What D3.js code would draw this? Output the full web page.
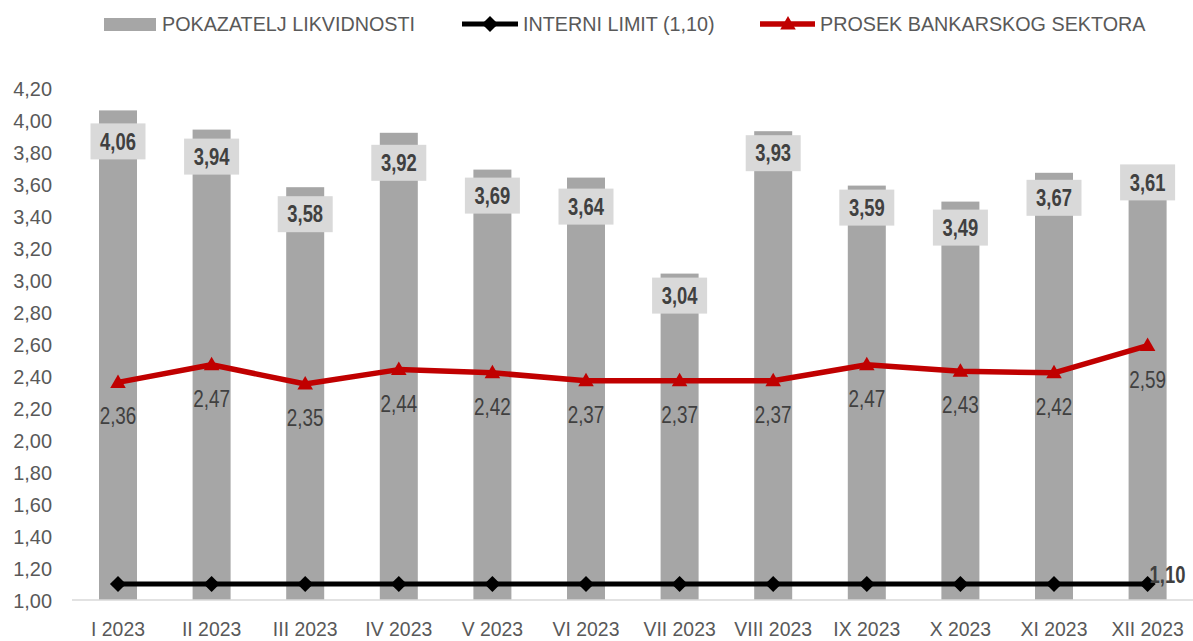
<!DOCTYPE html>
<html>
<head>
<meta charset="utf-8">
<script src="https://cdn.jsdelivr.net/npm/d3@7"></script>
<style>
  html, body { margin: 0; padding: 0; background: #fff; }
  svg { display: block; }
  text { font-family: "Liberation Sans Narrow", "Arial Narrow", "Liberation Sans", Arial, sans-serif; }
</style>
</head>
<body>
<svg id="chart" width="1193" height="641"></svg>
<script>
// ---- data ----
const categories = ["I 2023","II 2023","III 2023","IV 2023","V 2023","VI 2023","VII 2023","VIII 2023","IX 2023","X 2023","XI 2023","XII 2023"];
const liquidity = [4.06, 3.94, 3.58, 3.92, 3.69, 3.64, 3.04, 3.93, 3.59, 3.49, 3.67, 3.61];
const internalLimit = [1.10, 1.10, 1.10, 1.10, 1.10, 1.10, 1.10, 1.10, 1.10, 1.10, 1.10, 1.10];
const sectorAverage = [2.36, 2.47, 2.35, 2.44, 2.42, 2.37, 2.37, 2.37, 2.47, 2.43, 2.42, 2.59];
const yTicks = [1.0, 1.2, 1.4, 1.6, 1.8, 2.0, 2.2, 2.4, 2.6, 2.8, 3.0, 3.2, 3.4, 3.6, 3.8, 4.0, 4.2];
const seriesNames = ["POKAZATELJ LIKVIDNOSTI", "INTERNI LIMIT (1,10)", "PROSEK BANKARSKOG SEKTORA"];

// ---- layout (label nudges, px below bar top) ----
const barLabelNudge = [31, 27, 27, 30, 26, 29, 22, 22, 22, 26, 25, 0];

const fmt = v => d3.format(".2f")(v).replace(".", ",");
// emulate a narrow typeface by compressing glyphs horizontally
function condense(sel, f) {
  sel.each(function () {
    const w = this.getComputedTextLength();
    d3.select(this).attr("textLength", w * f).attr("lengthAdjust", "spacingAndGlyphs");
  });
}

const svg = d3.select("#chart");
const x = d3.scaleBand().domain(categories).range([71.2, 1194.4]).paddingInner(0.594).paddingOuter(0.297);
const y = d3.scaleLinear().domain([1, 4.2]).range([600, 88]);
const cx = d => x(d) + x.bandwidth() / 2;

// y axis
const yAxis = d3.axisLeft(y).tickValues(yTicks).tickFormat(fmt).tickSize(0).tickPadding(0);
const gy = svg.append("g").attr("transform", "translate(52,0)").call(yAxis);
gy.select(".domain").remove();
gy.selectAll("text").attr("fill", "#595959").style("font-size", "21px").attr("dy", "0.35em");
condense(gy.selectAll("text"), 0.95);

// bars
svg.append("g").selectAll("rect").data(liquidity).join("rect")
  .attr("x", (d, i) => x(categories[i]))
  .attr("y", d => y(d))
  .attr("width", x.bandwidth())
  .attr("height", d => y(1) - y(d))
  .attr("fill", "#a6a6a6");

// x axis
const xAxis = d3.axisBottom(x).tickSize(0).tickPadding(0);
const gx = svg.append("g").attr("transform", "translate(0,600)").call(xAxis);
gx.select(".domain").remove();
gx.selectAll("text").attr("fill", "#595959").style("font-size", "20px").attr("dy", "0").attr("y", 36);
condense(gx.selectAll("text"), 0.97);
svg.append("line").attr("x1", 72).attr("x2", 1193).attr("y1", y(1)).attr("y2", y(1))
  .attr("stroke", "#d9d9d9").attr("stroke-width", 1.5);

// internal limit line
const line = d3.line().x((d, i) => cx(categories[i])).y(d => y(d));
svg.append("path").datum(internalLimit).attr("d", line)
  .attr("fill", "none").attr("stroke", "#000").attr("stroke-width", 5);
const diamond = d3.symbol().type(d3.symbolSquare).size(130);
svg.append("g").selectAll("path").data(internalLimit).join("path")
  .attr("d", diamond)
  .attr("transform", (d, i) => `translate(${cx(categories[i])},${y(d)}) rotate(45)`)
  .attr("fill", "#000");

// sector average line
svg.append("path").datum(sectorAverage).attr("d", line)
  .attr("fill", "none").attr("stroke", "#c00000").attr("stroke-width", 5.5).attr("stroke-linejoin", "round");
const tri = d3.symbol().type(d3.symbolTriangle).size(105);
svg.append("g").selectAll("path").data(sectorAverage).join("path")
  .attr("d", tri)
  .attr("transform", (d, i) => `translate(${cx(categories[i])},${y(d) + 1})`)
  .attr("fill", "#c00000");

// sector average labels
const sl = svg.append("g").selectAll("text").data(sectorAverage).join("text")
  .attr("x", (d, i) => cx(categories[i]))
  .attr("y", d => y(d) + 34)
  .attr("dy", "0.35em")
  .attr("text-anchor", "middle")
  .attr("fill", "#404040")
  .style("font-size", "23px")
  .text(fmt);
condense(sl, 0.82);

// bar labels
const bl = svg.append("g").selectAll("g").data(liquidity).join("g")
  .attr("transform", (d, i) => `translate(${cx(categories[i])},${y(d) + barLabelNudge[i]})`);
bl.append("rect").attr("x", -27.5).attr("y", -18).attr("width", 55).attr("height", 36).attr("fill", "#d9d9d9");
const blt = bl.append("text").attr("text-anchor", "middle").attr("dy", "0.36em")
  .attr("fill", "#404040").style("font-size", "23px").style("font-weight", "bold")
  .text(fmt);
condense(blt, 0.8);

// internal limit end label
const last = internalLimit.length - 1;
const el = svg.append("text")
  .attr("x", cx(categories[last]) + 2)
  .attr("y", y(internalLimit[last]) - 9)
  .attr("dy", "0.35em")
  .attr("fill", "#404040").style("font-size", "23px").style("font-weight", "bold")
  .text(fmt(internalLimit[last]));
condense(el, 0.8);

// legend
const lg = svg.append("g");
lg.append("rect").attr("x", 104).attr("y", 18).attr("width", 52).attr("height", 13).attr("fill", "#a6a6a6");
lg.append("line").attr("x1", 462).attr("x2", 518).attr("y1", 24).attr("y2", 24).attr("stroke", "#000").attr("stroke-width", 5);
lg.append("path").attr("d", diamond).attr("transform", "translate(490,24) rotate(45)").attr("fill", "#000");
lg.append("line").attr("x1", 760).attr("x2", 815).attr("y1", 24).attr("y2", 24).attr("stroke", "#c00000").attr("stroke-width", 5.5);
lg.append("path").attr("d", tri).attr("transform", "translate(788,25)").attr("fill", "#c00000");
const legendX = [162, 523, 820];
const lt = lg.selectAll("text.leg").data(seriesNames).join("text").attr("class", "leg")
  .attr("x", (d, i) => legendX[i]).attr("y", 24).attr("dy", "0.35em")
  .attr("fill", "#595959").style("font-size", "21px").text(d => d);
condense(lt, 0.94);
</script>
</body>
</html>
